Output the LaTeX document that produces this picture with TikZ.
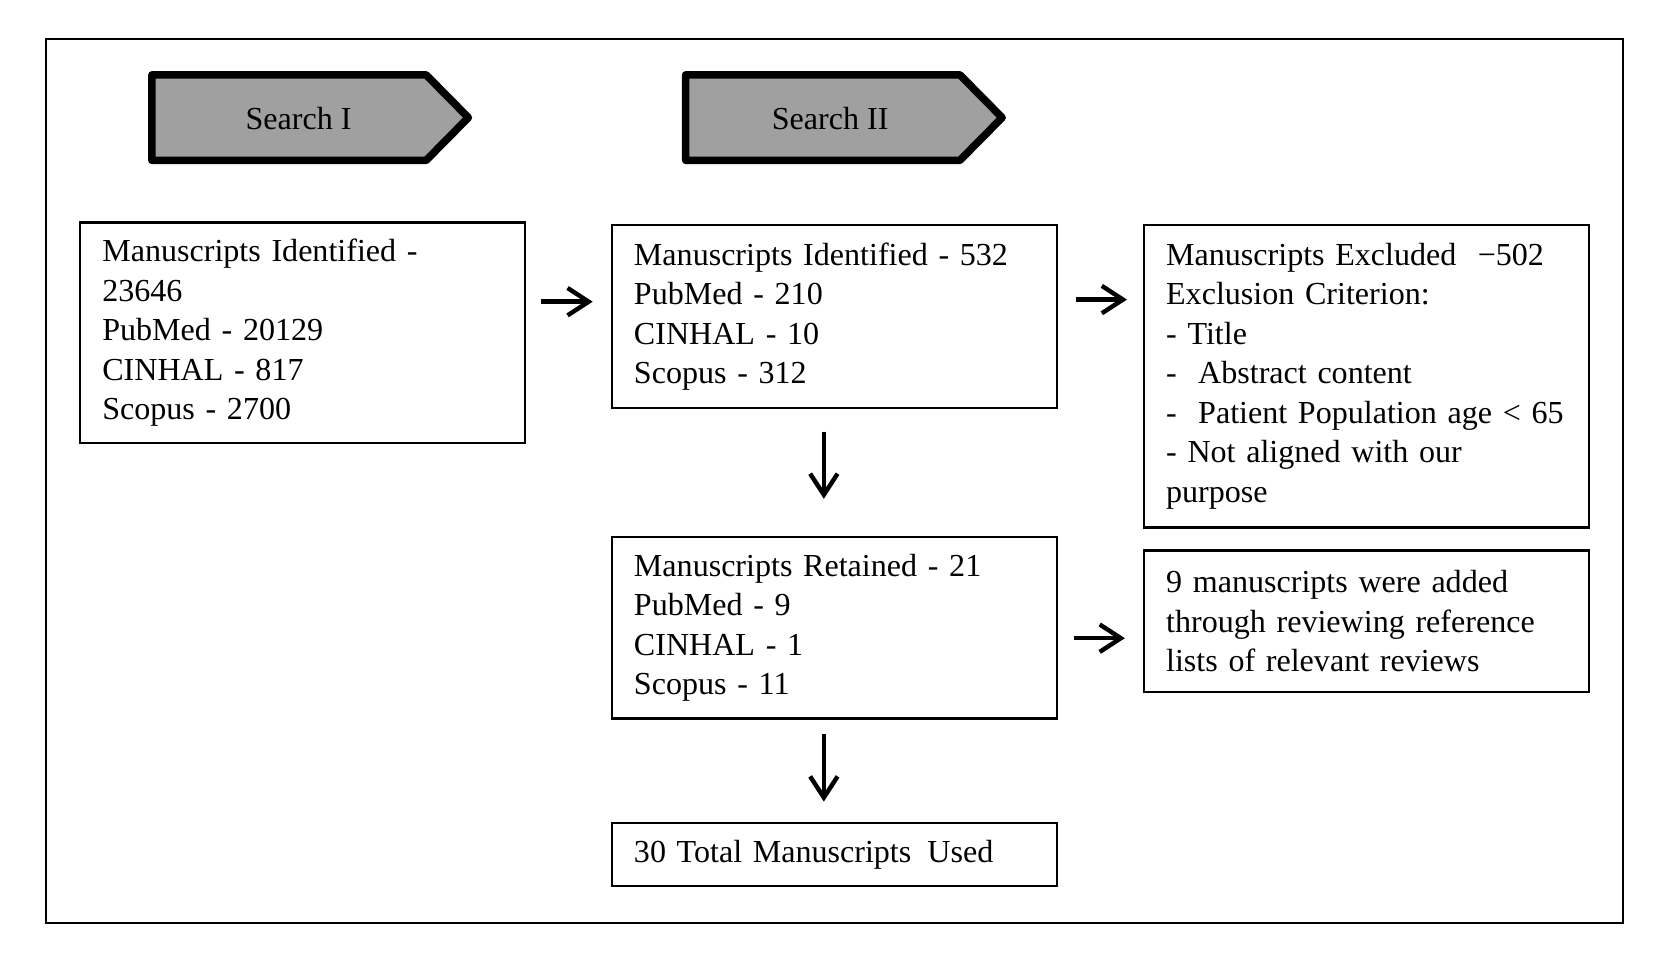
\documentclass[tikz,border=0pt]{standalone}
\usepackage{fontspec}
\setmainfont{Liberation Serif}
\usetikzlibrary{arrows.meta}
\definecolor{searchgray}{RGB}{160,160,160}
\begin{document}
\begin{tikzpicture}[x=0.5pt,y=-0.5pt,
    box/.style={draw, line width=1.1pt, align=left, text width=190pt,
      inner xsep=10.5pt, inner ysep=0pt,
      font=\fontsize{15.2}{18.7}\selectfont},
    searchtab/.style={draw, line width=3.6pt, fill=searchgray, line join=round},
    tablabel/.style={font=\fontsize{15.2}{18.7}\selectfont},
    flow/.style={line width=2.1pt, -{Straight Barb[length=10pt,width=13pt]}}]
  \useasboundingbox (0,0) rectangle (1568,909);
  \draw[line width=1pt] (44,37) rectangle (1539,875);
  % search tabs
  \draw[searchtab] (144,71) -- (404,71) -- (444,111.5) -- (404,152) -- (144,152) -- cycle;
  \draw[searchtab] (650,71) -- (910,71) -- (950,111.5) -- (910,152) -- (650,152) -- cycle;
  \node[tablabel] (search1) at (283,112) {Search I};
  \node[tablabel] (search2) at (787,112) {Search II};
  % boxes
  \node[box, minimum height=104.5pt] (found1) at (287,315.5)
    {Manuscripts Identified -\\23646\\PubMed - 20129\\CINHAL - 817\\Scopus - 2700};
  \node[box, minimum height=87pt] (found2) at (791,300)
    {Manuscripts Identified - 532\\PubMed - 210\\CINHAL - 10\\Scopus - 312};
  \node[box, minimum height=143.5pt] (excluded) at (1295.5,356.5)
    {Manuscripts Excluded \ −502\\Exclusion Criterion:\\- Title\\- \ Abstract content\\- \ Patient Population age~<~65\\- Not aligned with our\\purpose};
  \node[box, minimum height=86pt] (retained) at (791,595)
    {Manuscripts Retained - 21\\PubMed - 9\\CINHAL - 1\\Scopus - 11};
  \node[box, minimum height=67pt] (added) at (1295.5,589)
    {9 manuscripts were added\\through reviewing reference\\lists of relevant reviews};
  \node[box, minimum height=30pt] (total) at (791,810)
    {30 Total Manuscripts\, Used};
  \begin{scope}[flow]
    \draw[shorten <=7pt, shorten >=8.5pt] ([yshift=14.75pt]found1.east) to ([yshift=7pt]found2.west);
    \draw[shorten <=8.5pt, shorten >=7.5pt] ([yshift=8pt]found2.east) to ([yshift=36.25pt]excluded.west);
    \draw[shorten <=10.5pt, shorten >=17.5pt] ([xshift=-5pt]found2.south) to ([xshift=-5pt]retained.north);
    \draw[shorten <=7.5pt, shorten >=8.5pt] ([yshift=-5pt]retained.east) to ([yshift=-8pt]added.west);
    \draw[shorten <=7pt, shorten >=9.5pt] ([xshift=-5pt]retained.south) to ([xshift=-5pt]total.north);
  \end{scope}
\end{tikzpicture}
\end{document}
